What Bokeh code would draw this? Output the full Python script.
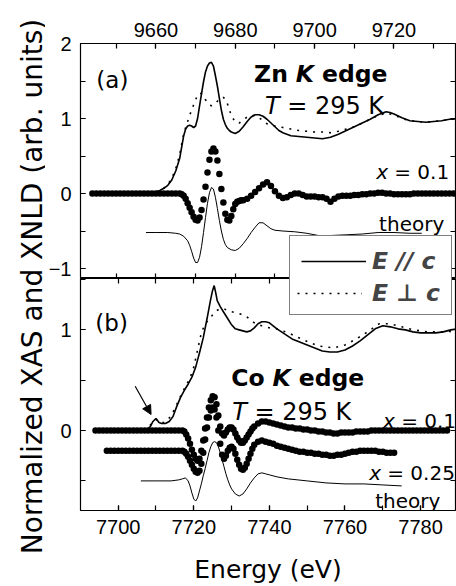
from bokeh.plotting import figure
from bokeh.models import (Range1d, LinearAxis, SingleIntervalTicker, FixedTicker, Label, Legend,
                          LegendItem, Arrow, NormalHead)
from bokeh.layouts import row, column
from bokeh.embed import file_html
from bokeh.resources import INLINE

# ---------------- Zn K edge (panel a) ----------------
zn_xas_e = [9644, 9650, 9655, 9658, 9660, 9661, 9662, 9663, 9664, 9665, 9666, 9666.5, 9667, 9667.5,
            9668, 9668.5, 9669, 9669.5, 9670, 9670.5, 9671, 9671.5, 9672, 9672.5, 9673, 9673.5, 9674,
            9674.5, 9675, 9675.5, 9676, 9676.5, 9677, 9677.5, 9678, 9678.5, 9679, 9680, 9681, 9682,
            9683, 9684, 9685, 9686, 9687, 9688, 9689, 9690, 9691, 9692, 9694, 9696, 9698, 9700, 9702,
            9704, 9706, 9708, 9710, 9712, 9714, 9716, 9718, 9719, 9720, 9722, 9724, 9726, 9728, 9730,
            9732, 9734, 9737]
zn_par = [0.0, 0.0, 0.0, 0.01, 0.02, 0.04, 0.07, 0.11, 0.18, 0.30, 0.47, 0.62, 0.77, 0.86,
          0.90, 0.91, 0.90, 0.88, 0.90, 1.00, 1.17, 1.33, 1.49, 1.62, 1.70, 1.74, 1.75,
          1.70, 1.57, 1.43, 1.27, 1.11, 0.99, 0.92, 0.87, 0.84, 0.82, 0.80, 0.83, 0.89,
          0.96, 1.02, 1.05, 1.05, 1.03, 0.99, 0.94, 0.89, 0.84, 0.81, 0.77, 0.76, 0.75, 0.74, 0.73,
          0.75, 0.79, 0.84, 0.89, 0.94, 0.99, 1.05, 1.09, 1.08, 1.06, 1.01, 0.97, 0.96, 0.95, 0.96,
          0.97, 0.99, 1.00]

zn_perp_e = [9644, 9650, 9655, 9658, 9660, 9661, 9662, 9663, 9664, 9665, 9666, 9666.5, 9667, 9667.5,
             9668, 9668.5, 9669, 9669.5, 9670, 9670.5, 9671, 9671.5, 9672, 9672.5, 9673, 9673.5, 9674,
             9674.5, 9675, 9675.5, 9676, 9676.5, 9677, 9677.5, 9678, 9678.5, 9679, 9680, 9681, 9682,
             9683, 9684, 9685, 9686, 9687, 9688, 9689, 9690, 9692, 9694, 9696, 9698, 9700, 9702, 9704,
             9706, 9708, 9710, 9712, 9714, 9716, 9718, 9720, 9722, 9724, 9726, 9728, 9730, 9732, 9734,
             9737]
zn_perp = [0.0, 0.0, 0.0, 0.01, 0.02, 0.04, 0.07, 0.12, 0.20, 0.33, 0.52, 0.66, 0.79, 0.88,
           0.96, 1.04, 1.11, 1.18, 1.25, 1.31, 1.34, 1.33, 1.29, 1.25, 1.21, 1.18, 1.17,
           1.18, 1.20, 1.23, 1.26, 1.28, 1.28, 1.26, 1.20, 1.12, 1.04, 0.95, 0.94, 0.98,
           1.02, 1.04, 1.04, 1.01, 0.97, 0.93, 0.91, 0.90, 0.88, 0.86, 0.84, 0.83, 0.82, 0.82, 0.81,
           0.83, 0.86, 0.89, 0.94, 0.99, 1.04, 1.07, 1.05, 1.00, 0.97, 0.96, 0.95, 0.96, 0.97, 0.99,
           1.00]

zn_xnld_e = [9644, 9645, 9646, 9647, 9648, 9649, 9650, 9651, 9652, 9653, 9654, 9655, 9656, 9657,
             9658, 9659, 9660, 9661, 9662, 9663, 9664, 9665, 9666,
             9666.5, 9667, 9667.5, 9668, 9668.5, 9669, 9669.5, 9670, 9670.5, 9671, 9671.5, 9672,
             9672.5, 9673, 9673.5, 9674, 9674.5, 9675, 9675.5, 9676, 9676.5, 9677, 9677.5, 9678,
             9678.5, 9679, 9679.5, 9680, 9680.5, 9681, 9681.5, 9682,
             9683, 9684, 9685, 9686, 9687, 9688, 9689, 9690, 9691, 9692, 9693, 9694, 9695, 9696,
             9697, 9698, 9699, 9700, 9701, 9702, 9703, 9704, 9705, 9706, 9707, 9708, 9709, 9710,
             9711, 9712, 9713, 9714, 9715, 9716, 9717, 9718, 9719, 9720, 9721, 9722, 9723, 9724,
             9725, 9726, 9727, 9728, 9729, 9730, 9731, 9732, 9733, 9734, 9735, 9736, 9737]
zn_xnld = [0.0, 0.0, 0.0, 0.0, 0.0, 0.0, 0.0, 0.0, 0.0, 0.0, 0.0, 0.0, 0.0, 0.0,
           0.0, 0.0, 0.0, 0.0, 0.0, 0.0, 0.0, 0.0, 0.0,
           -0.01, -0.03, -0.07, -0.13, -0.19, -0.25, -0.31, -0.35, -0.36, -0.32, -0.22, -0.08,
           0.09, 0.28, 0.45, 0.56, 0.60, 0.56, 0.44, 0.26, 0.06, -0.12, -0.27, -0.35,
           -0.36, -0.30, -0.21, -0.14, -0.11, -0.10, -0.09, -0.09,
           -0.07, -0.03, 0.02, 0.07, 0.12, 0.15, 0.10, 0.03, -0.03, -0.06, -0.05, -0.02, 0.0, 0.0,
           -0.02, -0.04, -0.04, -0.04, -0.05, -0.05, -0.07, -0.11, -0.07, -0.04, -0.03, -0.03, -0.03, -0.02,
           -0.02, -0.01, -0.01, 0.0, 0.0, 0.01, 0.01, 0.0, 0.0, -0.01, -0.01, -0.01, -0.01, -0.01,
           0.0, 0.0, 0.0, 0.0, 0.0, 0.0, 0.0, 0.0, 0.0, 0.0, 0.0, 0.0, 0.0]

zn_theory_e = [9657.5, 9660, 9663, 9665, 9666, 9667, 9668, 9668.5, 9669, 9669.5, 9670, 9670.5, 9671,
               9671.5, 9672, 9672.5, 9673, 9673.5, 9674, 9674.5, 9675, 9675.5, 9676, 9676.5, 9677,
               9677.5, 9678, 9679, 9680, 9681, 9682, 9683, 9684, 9685, 9686, 9687, 9688, 9689, 9690,
               9692, 9695, 9698, 9701, 9704, 9708, 9712, 9716, 9720, 9724, 9727]
zn_theory = [-0.52, -0.52, -0.52, -0.53, -0.54, -0.57, -0.63, -0.69, -0.77, -0.86, -0.92, -0.92, -0.85,
             -0.71, -0.52, -0.32, -0.13, 0.01, 0.08, 0.06, -0.05, -0.20, -0.36, -0.50, -0.61,
             -0.68, -0.72, -0.75, -0.76, -0.73, -0.67, -0.60, -0.52, -0.45, -0.39, -0.39, -0.43, -0.47, -0.49,
             -0.50, -0.51, -0.53, -0.56, -0.56, -0.55, -0.54, -0.52, -0.52, -0.53, -0.53]

# ---------------- Co K edge (panel b) ----------------
co_par_e = [7694, 7700, 7706, 7707.5, 7708.5, 7709.2, 7710, 7710.8, 7711.5, 7712.5,
            7713.5, 7714.5, 7715.5, 7716.5, 7717.5, 7718.5, 7719.5, 7720.5, 7721.5, 7722.5,
            7723.5, 7724.4, 7724.9, 7725.4, 7725.8, 7726.2, 7727, 7728, 7729, 7730,
            7731, 7732, 7733, 7734, 7735, 7736, 7737, 7738, 7739, 7740, 7741, 7742,
            7744, 7746, 7748, 7750, 7752, 7754, 7756, 7758, 7760, 7762, 7764, 7766, 7768, 7770,
            7772, 7774, 7776, 7778, 7780, 7782, 7784, 7786, 7788, 7790]
co_par = [0.0, 0.0, 0.0, 0.01, 0.04, 0.09, 0.12, 0.08, 0.07, 0.07,
          0.09, 0.14, 0.24, 0.33, 0.40, 0.46, 0.53, 0.63, 0.77, 0.92,
          1.11, 1.29, 1.38, 1.44, 1.37, 1.29, 1.23, 1.17, 1.11, 1.05,
          1.01, 1.00, 0.99, 0.98, 0.99, 1.02, 1.06, 1.08, 1.08, 1.07, 1.04, 1.01,
          0.96, 0.91, 0.88, 0.85, 0.82, 0.79, 0.78, 0.78, 0.80, 0.84, 0.89, 0.95, 1.01, 1.04,
          1.03, 1.01, 1.00, 0.98, 0.97, 0.97, 0.97, 0.98, 1.00, 1.01]

co_perp_e = [7694, 7700, 7706, 7708, 7709, 7710, 7711, 7712, 7713, 7714, 7715, 7716, 7717, 7718,
             7719, 7720, 7721, 7722, 7723, 7724, 7725, 7726, 7727, 7728, 7729, 7730, 7731, 7732,
             7733, 7734, 7735, 7736, 7738, 7740, 7742, 7745, 7749, 7753, 7757, 7760, 7763, 7766,
             7769, 7772, 7775, 7778, 7782, 7786, 7790]
co_perp = [0.0, 0.0, 0.0, 0.03, 0.08, 0.11, 0.08, 0.08, 0.10, 0.15, 0.22, 0.30, 0.38, 0.45,
           0.52, 0.63, 0.80, 0.97, 1.06, 1.10, 1.15, 1.19, 1.21, 1.21, 1.19, 1.18, 1.17, 1.16,
           1.15, 1.13, 1.10, 1.07, 1.04, 1.02, 1.01, 0.97, 0.90, 0.84, 0.82, 0.85, 0.91, 0.98,
           1.06, 1.06, 1.03, 1.00, 0.98, 0.98, 0.99]

co_x010_e = [7694, 7695, 7696, 7697, 7698, 7699, 7700, 7701, 7702, 7703, 7704, 7705, 7706, 7707,
             7708, 7709, 7710, 7711, 7712, 7713, 7714, 7715, 7716, 7717,
             7717.5, 7718, 7718.5, 7719, 7719.5, 7720, 7720.5, 7721, 7721.5, 7722,
             7722.5, 7723, 7723.5, 7724, 7724.5, 7725, 7725.5, 7726, 7726.5, 7727,
             7727.5, 7728, 7728.5, 7729, 7729.5, 7730, 7730.5, 7731, 7731.5, 7732,
             7732.5, 7733, 7733.5, 7734, 7734.5, 7735, 7735.5, 7736,
             7737, 7738, 7739, 7740, 7741, 7742, 7743, 7744, 7745, 7746, 7747, 7748, 7749, 7750,
             7751, 7752, 7753, 7754, 7755, 7756, 7757, 7758, 7759, 7760, 7761, 7762, 7763, 7764,
             7765, 7766, 7767, 7768, 7769, 7770, 7771, 7772, 7773, 7774, 7775, 7776, 7777, 7778,
             7779, 7780, 7781, 7782, 7783, 7784, 7785, 7786, 7787]
co_x010 = [0.0, 0.0, 0.0, 0.0, 0.0, 0.0, 0.0, 0.0, 0.0, 0.0, 0.0, 0.0, 0.0, 0.0,
           0.0, 0.0, 0.0, 0.0, 0.0, 0.0, 0.0, 0.0, 0.0, 0.0,
           -0.01, -0.04, -0.08, -0.13, -0.19, -0.24, -0.28, -0.30, -0.28, -0.20,
           -0.10, 0.02, 0.13, 0.23, 0.30, 0.34, 0.33, 0.26, 0.15, 0.04,
           -0.03, -0.05, -0.02, 0.01, 0.03, 0.03, 0.01, -0.03, -0.07, -0.10,
           -0.12, -0.12, -0.10, -0.07, -0.04, -0.01, 0.02, 0.04,
           0.07, 0.09, 0.09, 0.08, 0.07, 0.06, 0.05, 0.04, 0.03, 0.03, 0.02, 0.02, 0.01, 0.01,
           0.0, 0.0, -0.01, -0.01, -0.02, -0.02, -0.03, -0.03, -0.02, -0.02, -0.02, -0.02, -0.01, -0.01,
           -0.01, -0.01, 0.0, 0.0, 0.0, 0.0, 0.0, 0.0, 0.0, 0.0, 0.0, 0.0, 0.0, 0.0,
           0.0, 0.0, 0.0, 0.0, 0.0, 0.0, 0.0, 0.0, 0.0]

co_x025_e = [7697, 7698, 7699, 7700, 7701, 7702, 7703, 7704, 7705, 7706, 7707, 7708, 7709, 7710,
             7711, 7712, 7713, 7714, 7715, 7716, 7717,
             7717.5, 7718, 7718.5, 7719, 7719.5, 7720, 7720.5, 7721, 7721.5, 7722,
             7722.5, 7723, 7723.5, 7724, 7724.5, 7725, 7725.5, 7726, 7726.5, 7727,
             7727.5, 7728, 7728.5, 7729, 7729.5, 7730, 7730.5, 7731, 7731.5, 7732,
             7732.5, 7733, 7733.5, 7734, 7734.5, 7735, 7735.5, 7736,
             7737, 7738, 7739, 7740, 7741, 7742, 7743, 7744, 7745, 7746, 7747, 7748, 7749, 7750,
             7751, 7752, 7753, 7754, 7755, 7756, 7757, 7758, 7759, 7760, 7761, 7762, 7763, 7764,
             7765, 7766, 7767, 7768, 7769, 7770, 7771, 7772, 7773]
co_x025 = [-0.20, -0.20, -0.20, -0.20, -0.20, -0.20, -0.20, -0.20, -0.20, -0.20, -0.20, -0.20, -0.20, -0.20,
           -0.20, -0.20, -0.20, -0.20, -0.20, -0.20, -0.20,
           -0.21, -0.23, -0.26, -0.30, -0.34, -0.38, -0.41, -0.42, -0.40, -0.33,
           -0.22, -0.09, 0.03, 0.13, 0.20, 0.23, 0.21, 0.13, 0.00, -0.13,
           -0.24, -0.28, -0.25, -0.20, -0.17, -0.16, -0.18, -0.23, -0.29, -0.34,
           -0.38, -0.39, -0.37, -0.33, -0.28, -0.23, -0.18, -0.14,
           -0.11, -0.10, -0.11, -0.12, -0.13, -0.15, -0.16, -0.17, -0.18, -0.19, -0.20, -0.21, -0.21, -0.22,
           -0.22, -0.23, -0.23, -0.24, -0.24, -0.25, -0.25, -0.24, -0.24, -0.23, -0.22, -0.21, -0.21, -0.20,
           -0.20, -0.20, -0.20, -0.20, -0.21, -0.21, -0.22, -0.22, -0.22]

co_theory_e = [7706, 7710, 7714, 7716, 7717, 7717.8, 7718.5, 7719, 7719.5, 7720, 7720.5, 7721,
               7721.5, 7722, 7722.5, 7723, 7723.5, 7724, 7724.5, 7725, 7725.5, 7726, 7726.5, 7727,
               7727.5, 7728, 7728.5, 7729, 7729.5, 7730, 7731, 7732, 7733, 7734, 7735, 7736, 7737,
               7738, 7739, 7740, 7742, 7745, 7750, 7755, 7760, 7765, 7770, 7775]
co_theory = [-0.50, -0.50, -0.50, -0.49, -0.48, -0.47, -0.50, -0.55, -0.62, -0.68, -0.70, -0.67,
             -0.60, -0.53, -0.45, -0.38, -0.30, -0.22, -0.16, -0.12, -0.11, -0.12, -0.16, -0.22,
             -0.29, -0.36, -0.43, -0.49, -0.54, -0.58, -0.63, -0.65, -0.63, -0.58, -0.52, -0.47, -0.43,
             -0.42, -0.43, -0.44, -0.46, -0.48, -0.50, -0.52, -0.53, -0.53, -0.54, -0.55]

# inner tick positions on the unlabelled frame sides
zn_e_ticks = [9650, 9660, 9670, 9680, 9690, 9700, 9710, 9720, 9730]
zn_v_ticks = [-1, -0.5, 0, 0.5, 1, 1.5, 2]
co_e_ticks = [7700, 7710, 7720, 7730, 7740, 7750, 7760, 7770, 7780]
co_v_ticks = [-0.5, 0, 0.5, 1, 1.5]

ANNOT_FONT = "DejaVu Sans"
TICK_FONT = "Liberation Sans"


def tick_style(ax):
    ax.major_tick_in = 5
    ax.major_tick_out = 0
    ax.minor_tick_in = 5
    ax.minor_tick_out = 0
    ax.major_tick_line_color = "black"
    ax.minor_tick_line_color = "black"
    ax.major_tick_line_width = 1.2
    ax.minor_tick_line_width = 1.2
    ax.axis_line_color = None


def labelled_axis(ax, interval, standoff):
    ax.ticker = SingleIntervalTicker(interval=interval, num_minor_ticks=2)
    tick_style(ax)
    ax.major_label_text_font = TICK_FONT
    ax.major_label_text_font_size = "20px"
    ax.major_label_text_color = "black"
    ax.major_label_standoff = standoff


def mirror_axis(positions):
    # tick marks only: every position is a minor tick, so no label is produced
    ax = LinearAxis(ticker=FixedTicker(ticks=[], minor_ticks=positions))
    tick_style(ax)
    ax.major_label_standoff = 0
    return ax


def add_text(p, x, y, s, size, style="normal"):
    p.add_layout(Label(x=x, y=y, text=s, text_font=ANNOT_FONT, text_font_size=size,
                       text_font_style=style, text_color="black",
                       text_align="left", text_baseline="alphabetic"))


def base_panel(height, xr, yr, xloc, top_border, bottom_border):
    p = figure(width=411, height=height, x_range=Range1d(*xr), y_range=Range1d(*yr),
               x_axis_location=xloc, toolbar_location=None, output_backend="svg",
               min_border_left=32, min_border_right=1,
               min_border_top=top_border, min_border_bottom=bottom_border)
    p.xgrid.visible = False
    p.ygrid.visible = False
    p.outline_line_color = "black"
    p.outline_line_width = 1.2
    p.background_fill_color = "white"
    p.border_fill_color = "white"
    return p


# ---------- panel (a) ----------
top = base_panel(278, (9641.0, 9735.5), (-1.133, 2.0), "above", 43, 0)
labelled_axis(top.xaxis[0], 20, 7)
labelled_axis(top.yaxis[0], 1, 9)
top.add_layout(mirror_axis(zn_e_ticks), "below")
top.add_layout(mirror_axis(zn_v_ticks), "right")

r_zn_par = top.line(zn_xas_e, zn_par, line_color="black", line_width=1.6)
top.line(zn_perp_e, zn_perp, line_color="black", line_width=1.6, line_dash="2 6")
top.line(zn_theory_e, zn_theory, line_color="black", line_width=1.0)
top.scatter(zn_xnld_e, zn_xnld, marker="circle", size=6.5, fill_color="black", line_color=None)

add_text(top, 9645.0, 1.507, "(a)", "23px")
add_text(top, 9684.75, 1.587, "Zn", "23.5px", "bold")
add_text(top, 9695.25, 1.587, "K", "23.5px", "bold italic")
add_text(top, 9701.85, 1.587, "edge", "23.5px", "bold")
add_text(top, 9687.5, 1.173, "T", "24px", "italic")
add_text(top, 9693.08, 1.173, "= 295 K", "24px")
add_text(top, 9715.5, 0.293, "x", "20px", "italic")
add_text(top, 9720.05, 0.293, "= 0.1", "20px")
add_text(top, 9716.25, -0.413, "theory", "20px")

leg_top = Legend(items=[LegendItem(label="E // c", renderers=[r_zn_par])],
                 location=(209, -8.5), margin=0, padding=11, spacing=0,
                 glyph_width=65, glyph_height=20, label_standoff=6, label_width=68,
                 label_text_font=ANNOT_FONT, label_text_font_style="bold italic",
                 label_text_font_size="23.5px", border_line_color="black",
                 border_line_width=1.2, background_fill_color="white", background_fill_alpha=1.0)
top.add_layout(leg_top)

# ---------- panel (b) ----------
bot = base_panel(308, (7690.03, 7789.24), (-0.794, 1.51), "below", 0, 73)
labelled_axis(bot.xaxis[0], 20, 9)
labelled_axis(bot.yaxis[0], 1, 9)
bot.xaxis[0].axis_label = "Energy (eV)"
bot.xaxis[0].axis_label_text_font = ANNOT_FONT
bot.xaxis[0].axis_label_text_font_size = "25px"
bot.xaxis[0].axis_label_text_font_style = "normal"
bot.xaxis[0].axis_label_text_color = "black"
bot.xaxis[0].axis_label_standoff = 18
bot.add_layout(mirror_axis(co_e_ticks), "above")
bot.add_layout(mirror_axis(co_v_ticks), "right")

bot.line(co_par_e, co_par, line_color="black", line_width=1.6)
r_co_perp = bot.line(co_perp_e, co_perp, line_color="black", line_width=1.6, line_dash="2 6")
bot.line(co_theory_e, co_theory, line_color="black", line_width=1.0)
bot.scatter(co_x010_e, co_x010, marker="circle", size=6.5, fill_color="black", line_color=None)
bot.scatter(co_x025_e, co_x025, marker="circle", size=6.5, fill_color="black", line_color=None)

bot.add_layout(Arrow(end=NormalHead(size=9, fill_color="black", line_color="black"),
                     x_start=7704.5, y_start=0.44, x_end=7708.7, y_end=0.16,
                     line_color="black", line_width=1.2))

add_text(bot, 7693.96, 1.066, "(b)", "23px")
add_text(bot, 7729.92, 0.526, "Co", "23.5px", "bold")
add_text(bot, 7740.84, 0.526, "K", "23.5px", "bold italic")
add_text(bot, 7747.77, 0.526, "edge", "23.5px", "bold")
add_text(bot, 7730.18, 0.186, "T", "24px", "italic")
add_text(bot, 7736.04, 0.186, "= 295 K", "24px")
add_text(bot, 7770.08, 0.098, "x", "20px", "italic")
add_text(bot, 7774.86, 0.098, "= 0.1", "20px")
add_text(bot, 7766.4, -0.422, "x", "20px", "italic")
add_text(bot, 7771.18, -0.422, "= 0.25", "20px")
add_text(bot, 7767.98, -0.696, "theory", "20px")

leg_bot = Legend(items=[LegendItem(label="E \u22a5 c", renderers=[r_co_perp])],
                 location=(209, 195), margin=0, padding=7, spacing=0,
                 glyph_width=65, glyph_height=20, label_standoff=10, label_width=72,
                 label_text_font=ANNOT_FONT, label_text_font_style="bold italic",
                 label_text_font_size="23.5px", border_line_color="black",
                 border_line_width=1.2, background_fill_color="white", background_fill_alpha=1.0)
bot.add_layout(leg_bot)

# ---------- shared y-axis title ----------
lab = figure(width=45, height=586, x_range=Range1d(0, 45), y_range=Range1d(0, 586),
             x_axis_type=None, y_axis_type=None, toolbar_location=None,
             output_backend="svg", min_border=0, outline_line_color=None)
lab.add_layout(Label(x=32, y=300, text="Normalized XAS and XNLD (arb. units)",
                     angle=90, angle_units="deg", text_align="center",
                     text_baseline="alphabetic", text_font=ANNOT_FONT,
                     text_font_size="28px", text_color="black"))

layout = row(lab, column(top, bot, spacing=0), spacing=0)
open("out.html", "w").write(file_html(layout, INLINE))
